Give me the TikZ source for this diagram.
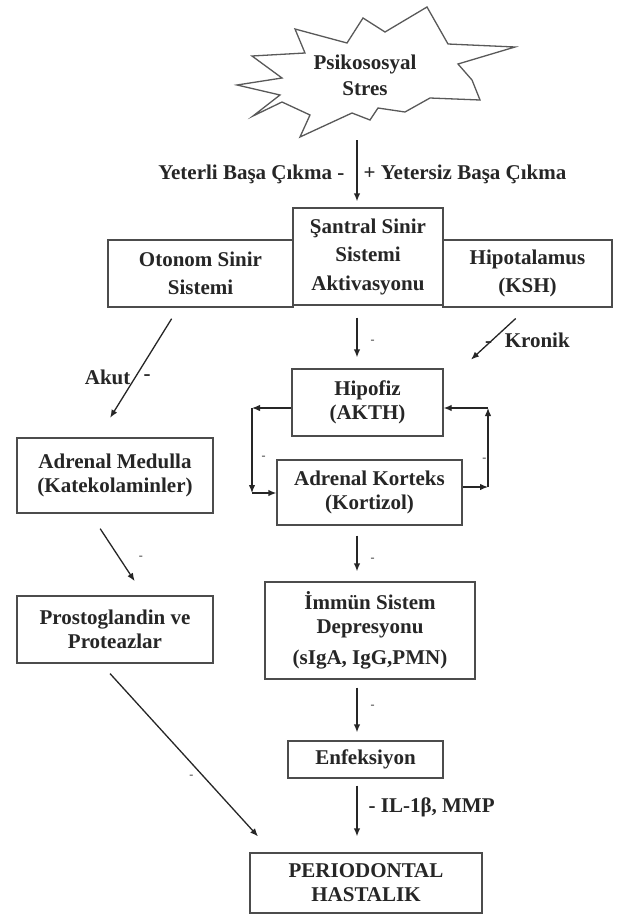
\documentclass[tikz,border=0pt]{standalone}
\usepackage{fontspec}
\setmainfont{Liberation Serif}
\usetikzlibrary{arrows.meta}

\begin{document}
\begin{tikzpicture}[x=1pt, y=-1pt,
    kutu/.style={draw=black!70, line width=1.3pt, fill=white, align=center, inner sep=0pt,
      text=black!85, font=\bfseries\fontsize{21}{24}\selectfont},
    genis/.style={font=\bfseries\fontsize{21}{28.5}\selectfont},
    ok/.style={-{Latex[length=8pt,width=6.5pt]}, line width=1.3pt, draw=black!85},
    yazi/.style={font=\bfseries\fontsize{21}{24}\selectfont, text=black!85, inner sep=0pt},
    isaret/.style={font=\bfseries\fontsize{12}{12}\selectfont, text=black!70, inner sep=0pt}]
    \useasboundingbox (0,0) rectangle (617,918);

    % stres yildizi
    \draw[line width=1.3pt, draw=black!65, fill=white]
      (237,85) -- (282,78) -- (252,56) -- (305,53) -- (295,29) -- (347,43) -- (363,18)
      -- (385,32) -- (427,7) -- (448,44) -- (515,47) -- (458,64) -- (472,80) -- (480,100)
      -- (430,98) -- (405,112) -- (378,108) -- (370,120) -- (352,113) -- (300,137)
      -- (310,115) -- (282,102) -- (253,116) -- (280,95) -- cycle;
    \node[yazi, align=center, font=\bfseries\fontsize{21}{26}\selectfont] (stres) at (365,75) {Psikososyal\\Stres};
    \coordinate (stresalt) at (357,140);

    % kutular
    \node[kutu, genis, minimum width=185pt, minimum height=67pt] (otonom) at (200.5,273.5) {Otonom Sinir\\Sistemi};
    \node[kutu, genis, minimum width=169pt, minimum height=67pt] (hipotalamus) at (527.5,273.5) {Hipotalamus\\(KSH)};
    \node[kutu, genis, minimum width=150pt, minimum height=97pt] (santral) at (368,256.5) {Şantral Sinir\\Sistemi\\Aktivasyonu};
    \node[kutu, minimum width=151pt, minimum height=67pt] (hipofiz) at (367.5,402.5) {Hipofiz\\(AKTH)};
    \node[kutu, minimum width=185pt, minimum height=65pt] (korteks) at (369.5,492.5) {Adrenal Korteks\\(Kortizol)};
    \node[kutu, minimum width=196pt, minimum height=75pt] (medulla) at (115,475.5) {Adrenal Medulla\\(Katekolaminler)};
    \node[kutu, minimum width=196pt, minimum height=67pt] (prosto) at (115,629.5) {Prostoglandin ve\\Proteazlar};
    \node[kutu, minimum width=210pt, minimum height=97pt] (immun) at (370,630.5) {İmmün Sistem\\Depresyonu\\[7pt](sIgA, IgG,PMN)};
    \node[kutu, minimum width=155pt, minimum height=37pt] (enfeksiyon) at (365.5,759.5) {Enfeksiyon};
    \node[kutu, minimum width=232pt, minimum height=60pt] (periodontal) at (366,883) {PERIODONTAL\\HASTALIK};

    % oklar
    \draw[ok, shorten >=6pt] (stresalt) -- (stresalt |- santral.north)
      node[pos=0.51, left=12pt, yazi] {Yeterli Başa Çıkma -}
      node[pos=0.51, right=6pt, yazi] {+ Yetersiz Başa Çıkma};
    \draw[ok, shorten <=12pt, shorten >=11pt] (santral.south -| stresalt) -- (hipofiz.north -| stresalt)
      node[pos=0.58, right=13pt, isaret] {-};
    \draw[ok, shorten <=16pt, shorten >=13pt] (hipotalamus.south) -- ([xshift=94pt]hipofiz.north)
      node[pos=0.53, anchor=west, xshift=-8pt, yazi] {-\hspace{0.6em}Kronik};
    \draw[ok, shorten <=13pt, shorten >=23pt] ([xshift=-22pt]otonom.south) -- ([xshift=-17pt]medulla.north)
      node[pos=0.54, left=4pt, yazi] {Akut}
      node[pos=0.54, right=8pt, yazi] {-};
    \draw[ok, shorten <=18pt, shorten >=17pt] ([xshift=-24.7pt]medulla.south) -- ([xshift=29pt]prosto.north)
      node[pos=0.54, right=19pt, isaret] {-};
    \draw[ok, shorten <=13.5pt, shorten >=21.5pt] ([xshift=-14pt]prosto.south) -- ([xshift=-93.5pt]periodontal.north)
      node[pos=0.6, left=10pt, isaret] {-};
    \draw[ok, shorten <=10pt, shorten >=10pt] (korteks.south -| stresalt) -- (immun.north -| stresalt)
      node[pos=0.61, right=13pt, isaret] {-};
    \draw[ok, shorten <=8pt, shorten >=8pt] (immun.south -| stresalt) -- (enfeksiyon.north -| stresalt)
      node[pos=0.45, right=13pt, isaret] {-};
    \draw[ok, shorten <=7pt, shorten >=16pt] (enfeksiyon.south -| stresalt) -- (periodontal.north -| stresalt)
      node[pos=0.39, right=11pt, yazi] {- IL-1β, MMP};

    % geri besleme
    \coordinate (solust) at (252,408);
    \coordinate (solalt) at (252,493);
    \coordinate (sagust) at (488,408);
    \coordinate (sagalt) at (488,487);
    \draw[ok] (hipofiz.west |- solust) -- (solust);
    \draw[ok] (solust) -- (solalt) node[pos=0.59, right=9pt, isaret] {-};
    \draw[ok] (solalt) -- (korteks.west |- solalt);
    \draw[ok] (korteks.east |- sagalt) -- (sagalt);
    \draw[ok] (sagalt) -- (sagust) node[pos=0.34, left=1pt, isaret] {-};
    \draw[ok] (sagust) -- (hipofiz.east |- sagust);
  \end{tikzpicture}
\end{document}
